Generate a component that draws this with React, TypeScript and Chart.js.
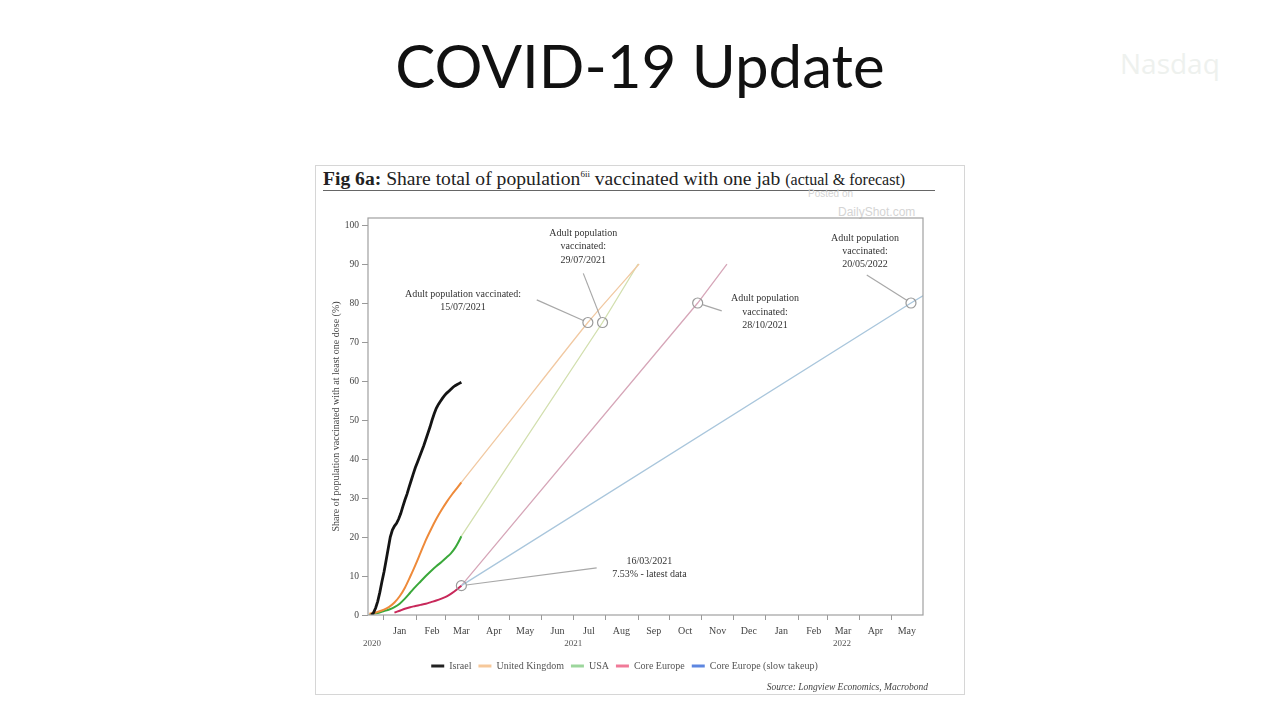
import React, { useEffect, useRef } from 'react';
import { Chart, registerables } from 'chart.js';

Chart.register(...registerables);

// ---- Data (x = days since 1 Jan 2021, y = % of population with at least one dose) ----
const israelDays = [-12, -10, -8, -6, -4, -2, 0, 2, 4, 6, 8, 10, 12, 14, 16, 18, 20, 22, 24, 26, 28, 30, 32, 34, 36, 38, 40, 42, 44, 46, 48, 50, 52, 54, 56, 58, 60, 62, 64, 66, 68, 70, 72, 74];
const israelValues = [0, 0.6, 1.8, 3.5, 5.8, 8.5, 11, 14, 17, 20, 21.8, 22.8, 23.5, 24.6, 26, 27.8, 29.5, 31, 32.8, 34.5, 36.2, 37.8, 39.2, 40.6, 42, 43.4, 45, 46.6, 48.2, 50, 51.6, 53, 54, 54.8, 55.6, 56.3, 56.9, 57.4, 57.9, 58.4, 58.8, 59.1, 59.4, 59.7];

const ukDays = [-14, -10, -5, 0, 5, 10, 15, 20, 25, 30, 35, 40, 45, 50, 55, 60, 65, 70, 74];
const ukValues = [0.3, 0.5, 0.9, 1.4, 2.1, 3.2, 4.8, 7, 9.8, 12.8, 16, 19.2, 22, 24.6, 26.9, 29, 30.9, 32.6, 34];

const usaDays = [-14, -10, -5, 0, 5, 10, 15, 20, 25, 30, 35, 40, 45, 50, 55, 60, 64, 68, 71, 74];
const usaValues = [0, 0.3, 0.6, 1, 1.4, 2, 2.9, 4.2, 5.7, 7.2, 8.6, 10, 11.3, 12.5, 13.6, 14.8, 15.8, 17.2, 18.6, 20.2];

const coreEuropeDays = [10, 15, 20, 25, 30, 35, 40, 45, 50, 55, 60, 65, 70, 74];
const coreEuropeValues = [0.6, 1.1, 1.6, 2.0, 2.3, 2.6, 2.9, 3.3, 3.7, 4.2, 4.8, 5.6, 6.6, 7.53];

const ukForecastDays = [74, 120, 195, 244];
const ukForecastValues = [34, 49.5, 75, 90];

const usaForecastDays = [74, 209, 243];
const usaForecastValues = [20.2, 75, 90];

const coreEuropeForecastDays = [74, 300, 328];
const coreEuropeForecastValues = [7.53, 80, 90];

const slowTakeupDays = [74, 504, 520];
const slowTakeupValues = [7.53, 80, 82.6];

// ---- Axis ticks ----
const yTicks = [0, 10, 20, 30, 40, 50, 60, 70, 80, 90, 100];
const monthStartDays = [0, 31, 59, 90, 120, 151, 181, 212, 243, 273, 304, 334, 365, 396, 424, 455, 485];
const monthLabels = ['Jan', 'Feb', 'Mar', 'Apr', 'May', 'Jun', 'Jul', 'Aug', 'Sep', 'Oct', 'Nov', 'Dec', 'Jan', 'Feb', 'Mar', 'Apr', 'May'];
const yearLabels = ['2020', '2021', '2022'];
const yearLabelDays = [-11.5, 181, 438];
const xMin = -15.3;
const xMax = 515.5;

// ---- Annotations (data coordinates) ----
const annotations = [
  { point: [195, 75], from: [146.1, 80.8], label: [75.6, 80.6], lines: ['Adult population vaccinated:', '15/07/2021'] },
  { point: [209, 75], from: [190.6, 87.6], label: [190.6, 94.4], lines: ['Adult population', 'vaccinated:', '29/07/2021'] },
  { point: [300, 80], from: [323, 78.0], label: [364.4, 77.7], lines: ['Adult population', 'vaccinated:', '28/10/2021'] },
  { point: [504, 80], from: [461.7, 87.2], label: [460, 93.2], lines: ['Adult population', 'vaccinated:', '20/05/2022'] },
  { point: [74, 7.53], from: [203.4, 12.1], label: [253.8, 12.05], lines: ['16/03/2021', '7.53% - latest data'] },
];

const SERIF = '"Liberation Serif", "DejaVu Serif", serif';

const toPoints = (xs: number[], ys: number[]) => xs.map((x, i) => ({ x, y: ys[i] }));

const annotationPlugin = {
  id: 'annos',
  afterDatasetsDraw(chart: any) {
    const { ctx, chartArea, scales } = chart;
    const xs = scales.x;
    const ys = scales.y;
    ctx.save();
    ctx.strokeStyle = '#a0a0a0';
    ctx.lineWidth = 1.2;
    ctx.strokeRect(chartArea.left, chartArea.top, chartArea.right - chartArea.left, chartArea.bottom - chartArea.top);
    const r = 5;
    for (const a of annotations) {
      const px = xs.getPixelForValue(a.point[0]);
      const py = ys.getPixelForValue(a.point[1]);
      const fx = xs.getPixelForValue(a.from[0]);
      const fy = ys.getPixelForValue(a.from[1]);
      const dx = fx - px;
      const dy = fy - py;
      const len = Math.sqrt(dx * dx + dy * dy);
      ctx.strokeStyle = '#a8a8a8';
      ctx.lineWidth = 1.2;
      ctx.beginPath();
      ctx.moveTo(px + (dx / len) * r, py + (dy / len) * r);
      ctx.lineTo(fx, fy);
      ctx.stroke();
      ctx.strokeStyle = '#9a9a9a';
      ctx.beginPath();
      ctx.arc(px, py, r, 0, Math.PI * 2);
      ctx.stroke();
      const lx = xs.getPixelForValue(a.label[0]);
      const ly = ys.getPixelForValue(a.label[1]);
      const lh = 13.3;
      ctx.fillStyle = '#333333';
      ctx.font = `10px ${SERIF}`;
      ctx.textAlign = 'center';
      ctx.textBaseline = 'middle';
      const n = a.lines.length;
      a.lines.forEach((t, i) => {
        ctx.fillText(t, lx, ly + (i - (n - 1) / 2) * lh);
      });
    }
    ctx.restore();
  },
};

function ChartCanvas() {
  const ref = useRef<HTMLCanvasElement>(null);
  useEffect(() => {
    if (!ref.current) return;
    const chart = new Chart(ref.current, {
      type: 'line',
      data: {
        datasets: [
          { label: 'Israel', data: toPoints(israelDays, israelValues), borderColor: '#141414', backgroundColor: '#222222', borderWidth: 2.8, pointRadius: 0, tension: 0 },
          { label: 'United Kingdom', data: toPoints(ukDays, ukValues), borderColor: '#ee8a3a', backgroundColor: '#f6c89a', borderWidth: 2, pointRadius: 0, tension: 0.3 },
          { label: 'USA', data: toPoints(usaDays, usaValues), borderColor: '#3aa83a', backgroundColor: '#9cd69c', borderWidth: 2, pointRadius: 0, tension: 0.3 },
          { label: 'Core Europe', data: toPoints(coreEuropeDays, coreEuropeValues), borderColor: '#c8285a', backgroundColor: '#f07a98', borderWidth: 2, pointRadius: 0, tension: 0.3 },
          { label: 'Core Europe (slow takeup)', data: toPoints(slowTakeupDays, slowTakeupValues), borderColor: '#a9c6dc', backgroundColor: '#5d86e0', borderWidth: 1.3, pointRadius: 0, tension: 0 },
          { label: 'UK forecast', forecast: true, data: toPoints(ukForecastDays, ukForecastValues), borderColor: '#f1c9a2', backgroundColor: '#f1c9a2', borderWidth: 1.3, pointRadius: 0, tension: 0.2 },
          { label: 'USA forecast', forecast: true, data: toPoints(usaForecastDays, usaForecastValues), borderColor: '#d2dfae', backgroundColor: '#d2dfae', borderWidth: 1.3, pointRadius: 0, tension: 0 },
          { label: 'Core Europe forecast', forecast: true, data: toPoints(coreEuropeForecastDays, coreEuropeForecastValues), borderColor: '#d6a6b8', backgroundColor: '#d6a6b8', borderWidth: 1.3, pointRadius: 0, tension: 0 },
        ] as any,
      },
      options: {
        animation: false,
        responsive: false,
        parsing: false as any,
        layout: { padding: { left: 11, right: 42, top: 53, bottom: 14 } },
        plugins: {
          tooltip: { enabled: false },
          legend: {
            position: 'bottom',
            labels: {
              boxWidth: 13,
              boxHeight: 3,
              padding: 7,
              color: '#555',
              font: { family: SERIF, size: 10 },
              generateLabels: (c: any) =>
                (Chart.defaults.plugins.legend.labels.generateLabels as any)(c).map((l: any) => ({ ...l, strokeStyle: l.fillStyle, lineWidth: 0 })),
              filter: (item: any, data: any) => !data.datasets[item.datasetIndex].forecast,
            },
          },
        },
        scales: {
          x: {
            type: 'linear',
            position: 'bottom',
            min: xMin,
            max: xMax,
            weight: 0,
            afterBuildTicks: (a: any) => { a.ticks = monthStartDays.map((v) => ({ value: v })); },
            afterFit: (s: any) => { s.height = 5; },
            ticks: { callback: () => '', autoSkip: false, maxRotation: 0 },
            grid: { display: true, drawOnChartArea: false, drawTicks: true, tickLength: 5, color: '#999', lineWidth: 1 },
            border: { display: false },
          },
          xm: {
            type: 'linear',
            position: 'bottom',
            min: xMin,
            max: xMax,
            weight: 1,
            afterBuildTicks: (a: any) => { a.ticks = monthStartDays.map((v) => ({ value: v + 15 })); },
            afterFit: (s: any) => { s.height = 17; },
            ticks: { callback: (_v: any, i: number) => monthLabels[i], autoSkip: false, maxRotation: 0, padding: 5, color: '#444', font: { family: SERIF, size: 10 } },
            grid: { display: false, drawTicks: false },
            border: { display: false },
          },
          xy: {
            type: 'linear',
            position: 'bottom',
            min: xMin,
            max: xMax,
            weight: 2,
            afterBuildTicks: (a: any) => { a.ticks = yearLabelDays.map((v) => ({ value: v })); },
            afterFit: (s: any) => { s.height = 17; },
            ticks: { callback: (_v: any, i: number) => yearLabels[i], autoSkip: false, maxRotation: 0, padding: 1, color: '#555', font: { family: SERIF, size: 9 } },
            grid: { display: false, drawTicks: false },
            border: { display: false },
          },
          y: {
            type: 'linear',
            min: 0,
            max: 101.8,
            afterBuildTicks: (a: any) => { a.ticks = yTicks.map((v) => ({ value: v })); },
            afterFit: (s: any) => { s.width = 42; },
            ticks: { color: '#444', padding: 3, font: { family: SERIF, size: 9.5 } },
            grid: { display: true, drawOnChartArea: false, drawTicks: true, tickLength: 6, color: '#999' },
            border: { display: false },
            title: { display: true, text: 'Share of population vaccinated with at least one dose (%)', color: '#444', font: { family: SERIF, size: 10 }, padding: { top: 4, bottom: 4 } },
          },
        },
      } as any,
      plugins: [annotationPlugin],
    });
    return () => chart.destroy();
  }, []);
  return <canvas ref={ref} width={650} height={530} style={{ display: 'block', width: 650, height: 530 }} />;
}

export default function App() {
  return (
    <div style={{ position: 'fixed', left: 0, top: 0, width: 1280, height: 720, background: '#ffffff', overflow: 'hidden' }}>
      <div style={{ position: 'absolute', left: 1120, top: 44, fontFamily: '"Open Sans", sans-serif', fontSize: 28, color: '#eef1ee' }}>Nasdaq</div>
      <div style={{ position: 'absolute', left: 0, top: 35, width: 1280, textAlign: 'center', fontFamily: 'Lato, "Open Sans", sans-serif', fontSize: 60, lineHeight: '60px', color: '#111' }}>
        COVID-19 Update
      </div>
      <div style={{ position: 'absolute', left: 315, top: 165, width: 648, height: 528, border: '1px solid #d6d6d6' }} />
      <div style={{ position: 'absolute', left: 323, top: 168, fontFamily: SERIF, fontSize: 19.6, lineHeight: '22px', color: '#222', whiteSpace: 'nowrap' }}>
        <b>Fig 6a:</b> Share total of population<span style={{ fontSize: 9, position: 'relative', top: -8 }}>6ii</span> vaccinated with one jab <span style={{ fontSize: 16 }}>(actual &amp; forecast)</span>
      </div>
      <div style={{ position: 'absolute', left: 323, top: 190, width: 612, height: 1, background: '#666' }} />
      <div style={{ position: 'absolute', left: 808, top: 188, fontFamily: '"Liberation Sans", sans-serif', fontSize: 10, color: '#d4d4d4' }}>Posted on</div>
      <div style={{ position: 'absolute', left: 838, top: 205, fontFamily: '"Liberation Sans", sans-serif', fontSize: 12, color: '#d4d4d4' }}>DailyShot.com</div>
      <div style={{ position: 'absolute', left: 315, top: 165 }}>
        <ChartCanvas />
      </div>
      <div style={{ position: 'absolute', right: 352, top: 682, fontFamily: SERIF, fontStyle: 'italic', fontSize: 9.5, color: '#444', whiteSpace: 'nowrap' }}>
        Source: Longview Economics, Macrobond
      </div>
    </div>
  );
}
